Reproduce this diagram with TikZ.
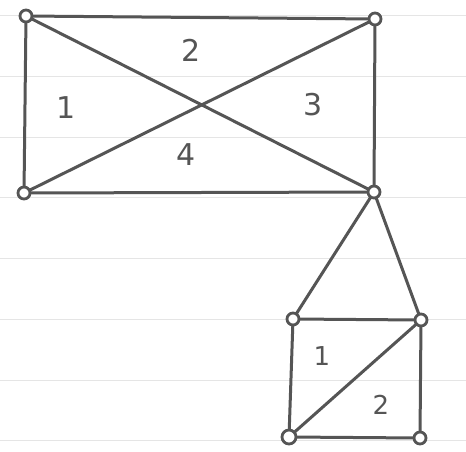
\documentclass[tikz,border=0pt]{standalone}
\usepackage{fontspec}
\setsansfont{DejaVu Sans}
\tikzset{
  pen/.style={draw=pencil, line width=3pt, line cap=round},
  vtx/.style={circle, draw=pencil, fill=white, line width=2.8pt, inner sep=0pt, minimum size=12pt},
  lbl/.style={text=pencil, font=\sffamily\fontsize{30}{30}\selectfont},
  ruling/.style={draw=black!10, line width=0.6pt}
}
\definecolor{pencil}{RGB}{85,85,85}
\begin{document}
\begin{tikzpicture}[x=1pt,y=-1pt]
\useasboundingbox (0,0) rectangle (466,451);
\fill[white] (0,0) rectangle (466,451);
% paper rulings
\foreach \yy in {15,76,137,197,258,319,380,440}
  \draw[ruling] (0,\yy) -- (466,\yy);
% vertices
\coordinate (A) at (26,16);
\coordinate (B) at (375,19);
\coordinate (C) at (24,193);
\coordinate (D) at (374,192);
\coordinate (E) at (293,319);
\coordinate (F) at (421,320);
\coordinate (G) at (289,437);
\coordinate (H) at (420,438);
% edges
\draw[pen] (A) -- (B);
\draw[pen] (A) -- (C);
\draw[pen] (B) -- (D);
\draw[pen] (C) -- (D);
\draw[pen] (A) -- (D);
\draw[pen] (B) -- (C);
\draw[pen] (D) -- (E);
\draw[pen] (D) -- (F);
\draw[pen] (E) -- (F);
\draw[pen] (E) -- (G);
\draw[pen] (F) -- (H);
\draw[pen] (G) -- (H);
\draw[pen] (F) -- (G);
% vertex markers
\node[vtx] (nA) at (A) {};
\node[vtx] (nB) at (B) {};
\node[vtx] (nC) at (C) {};
\node[vtx] (nD) at (D) {};
\node[vtx] (nE) at (E) {};
\node[vtx] (nF) at (F) {};
\node[vtx, minimum size=14pt] (nG) at (G) {};
\node[vtx] (nH) at (H) {};
% labels
\node[lbl] (l1) at (66,108) {1};
\node[lbl] (l2) at (191,50) {2};
\node[lbl] (l3) at (313,105) {3};
\node[lbl] (l4) at (186,155) {4};
\node[lbl, font=\sffamily\fontsize{26}{26}\selectfont] (m1) at (322,356) {1};
\node[lbl, font=\sffamily\fontsize{26}{26}\selectfont] (m2) at (381,405) {2};
\end{tikzpicture}
\end{document}
